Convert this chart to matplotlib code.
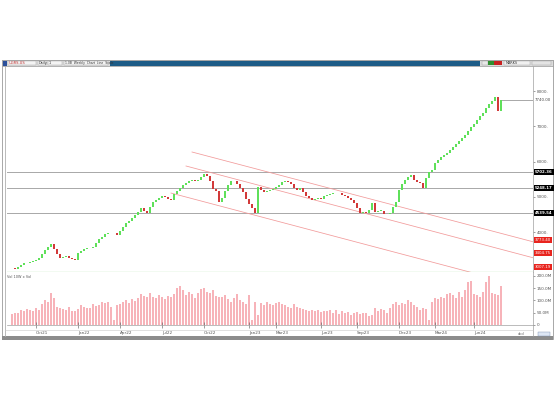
import matplotlib
matplotlib.use("Agg")
import matplotlib.pyplot as plt
from matplotlib.patches import Rectangle
from matplotlib.lines import Line2D
from matplotlib.transforms import blended_transform_factory

# weekly closes (open = previous close)
closes = [2980, 2960, 3010, 3060, 3120, 3110, 3150, 3170, 3200, 3260,
          3380, 3490, 3570, 3660, 3520, 3380, 3260, 3290, 3320, 3260,
          3230, 3210, 3400, 3460, 3520, 3540, 3550, 3570, 3690, 3800,
          3860, 3940, 3970, 3960, 3975, 3910, 4030, 4140, 4250, 4310,
          4400, 4480, 4570, 4680, 4600, 4540, 4710, 4850, 4910, 4960,
          5020, 4990, 4940, 4910, 5080, 5160, 5250, 5330, 5390, 5450,
          5470, 5450, 5470, 5560, 5650, 5590, 5450, 5220, 5160, 4850,
          4960, 5160, 5330, 5450, 5440, 5360, 5250, 5140, 4940, 4790,
          4680, 4540, 5280, 5190, 5140, 5160, 5190, 5220, 5280, 5330,
          5420, 5450, 5420, 5360, 5250, 5190, 5250, 5130, 5020, 4960,
          4910, 4940, 4960, 4950, 5020, 5050, 5080, 5110, 5100, 5110,
          5050, 5020, 4960, 4910, 4820, 4680, 4540, 4570, 4540, 4620,
          4820, 4570, 4600, 4610, 4510, 4500, 4540, 4710, 4850, 5190,
          5360, 5470, 5560, 5620, 5470, 5420, 5390, 5250, 5530, 5700,
          5760, 5960, 6040, 6130, 6180, 6240, 6330, 6410, 6500, 6580,
          6670, 6750, 6870, 6980, 7060, 7180, 7290, 7380, 7520, 7630,
          7720, 7820, 7420, 7740]

# weekly volume, millions
volumes = [45, 50, 48, 60, 55, 65, 60, 55, 70, 62,
           85, 100, 95, 130, 110, 75, 70, 65, 60, 72,
           58, 55, 65, 80, 75, 70, 68, 85, 78, 80,
           95, 88, 92, 75, 20, 80, 85, 95, 100, 90,
           105, 98, 110, 125, 118, 112, 128, 115, 110, 120,
           112, 105, 118, 115, 125, 150, 160, 140, 120, 135,
           125, 110, 130, 145, 150, 132, 128, 140, 118, 115,
           112, 120, 105, 95, 110, 125, 100, 95, 85, 120,
           20, 95, 40, 90, 80, 95, 85, 80, 90, 92,
           85, 80, 75, 70, 85, 72, 70, 65, 60, 58,
           62, 55, 60, 52, 58, 55, 60, 48, 62, 45,
           55, 50, 52, 40, 48, 52, 45, 50, 48, 38,
           42, 70, 55, 65, 60, 50, 70, 85, 95, 80,
           90, 85, 100, 95, 80, 72, 60, 70, 65, 20,
           95, 110, 105, 115, 108, 125, 130, 120, 110, 135,
           115, 140, 175, 180, 125, 120, 115, 135, 175, 200,
           130, 125, 120, 160]

date_ticks = [8, 22, 36, 50, 64, 79, 88, 103, 115, 129, 141, 154]
date_labels = ["Oct21", "Jan22", "Apr22", "Jul22", "Oct22", "Jan23",
               "Mar23", "Jun23", "Sep23", "Dec23", "Mar24", "Jun24"]

price_ticks = [4000, 5000, 6000, 7000, 8000]
vol_ticks = [0, 50, 100, 150, 200]
vol_tick_labels = ["0", "50.0M", "100.0M", "150.0M", "200.0M"]

# support / resistance levels
levels = [5702.36, 5248.17, 4539.54]
# descending channel: start bar, start price, end bar, end price
chan_x0 = [60, 58, 53]
chan_y0 = [6270, 5873, 5106]
chan_x1 = [174, 174, 174]
chan_y1 = [3716, 3263, 2383]
chan_labels = [3773.40, 3404.75, 3007.19]

W, H = 555, 400
fig = plt.figure(figsize=(W / 100, H / 100), dpi=100)
fig.patch.set_facecolor("white")


def fx(x):
    return x / W


def fy(y):
    return 1 - y / H


def frect(x0, y0, x1, y1, z=5, **kw):
    fig.add_artist(Rectangle((fx(x0), fy(y1)), fx(x1) - fx(x0), fy(y0) - fy(y1),
                             transform=fig.transFigure, zorder=z, **kw))


def fline(x0, y0, x1, y1, **kw):
    fig.add_artist(Line2D([fx(x0), fx(x1)], [fy(y0), fy(y1)],
                          transform=fig.transFigure, zorder=5, **kw))


# outer frame
frect(2, 60, 553, 339, z=-10, facecolor="white", edgecolor="#9a9a9a", lw=0.6)
frect(2, 336, 553, 340, facecolor="#8c8c8c", edgecolor="none")
fline(5, 66, 5, 336, color="#b0b0b0", lw=0.6)

# toolbar
frect(2, 60, 553, 66, facecolor="#dcdcdc", edgecolor="#9a9a9a", lw=0.5)
frect(110, 61, 480, 65.5, facecolor="#1d5c87", edgecolor="none")
frect(3, 61, 7, 65.5, facecolor="#2a4f9a", edgecolor="none")
for x0, x1 in [(8, 36), (38, 46), (48, 62), (64, 108)]:
    frect(x0, 61.3, x1, 65.3, facecolor="#f4f4f4", edgecolor="#a0a0a0", lw=0.3)
fig.text(fx(9), fy(63.4), "UGRS.US", fontsize=2.6, color="#c03030", va="center", zorder=6)
fig.text(fx(39), fy(63.4), "Daily", fontsize=2.4, color="#333", va="center", zorder=6)
fig.text(fx(49), fy(63.4), "1", fontsize=2.4, color="#333", va="center", zorder=6)
fig.text(fx(65), fy(63.4), "1.0B  Weekly  Chart  Line  Scale", fontsize=2.2,
         color="#333", va="center", zorder=6)
frect(482, 61.3, 488, 65.3, facecolor="#e8e8e8", edgecolor="#999", lw=0.3)
frect(488, 61.3, 494, 65.3, facecolor="#2f8f2f", edgecolor="none")
frect(494, 61.3, 502, 65.3, facecolor="#c82020", edgecolor="none")
frect(504, 61.3, 530, 65.3, facecolor="#f0f0f0", edgecolor="#a0a0a0", lw=0.3)
fig.text(fx(506), fy(63.4), "MARKS", fontsize=2.4, color="#333", va="center", zorder=6)
frect(532, 61.3, 551, 65.3, facecolor="#e4e4e4", edgecolor="#a0a0a0", lw=0.3)

# panes
ax = fig.add_axes([fx(7), fy(272), fx(533) - fx(7), fy(66) - fy(272)])
axv = fig.add_axes([fx(7), fy(325), fx(533) - fx(7), fy(272) - fy(325)], sharex=ax)
ax.patch.set_alpha(0)
axv.patch.set_alpha(0)

n = len(closes)
idx = list(range(n))
opens = [closes[0]] + closes[:-1]
up_c, dn_c = "#5fe05a", "#d23a3a"
cols = [up_c if c >= o else dn_c for o, c in zip(opens, closes)]
bodies = [max(abs(c - o), 12) for o, c in zip(opens, closes)]
bottoms = [min(o, c) for o, c in zip(opens, closes)]
ax.bar(idx, bodies, bottom=bottoms, width=0.65, color=cols, linewidth=0, zorder=3)

for lv in levels:
    ax.axhline(lv, color="#a8a8a8", lw=0.7, zorder=1)
ax.plot([n - 1, 174], [closes[-1], closes[-1]], color="#a8a8a8", lw=0.7, zorder=1)

for x0, y0, x1, y1 in zip(chan_x0, chan_y0, chan_x1, chan_y1):
    ax.plot([x0, x1], [y0, y1], color="#f29a9a", lw=0.55, zorder=2)

ax.axhline(2866, color="#9fdc94", lw=0.9, zorder=4)
ax.set_xlim(-1.67, 173.67)
ax.set_ylim(2866, 8710)

ax.yaxis.tick_right()
ax.set_yticks(price_ticks)
ax.set_yticklabels([f"{t}." for t in price_ticks])
ax.tick_params(axis="y", labelsize=3, length=1.5, width=0.4, pad=1,
               colors="#555555")
ax.tick_params(axis="x", bottom=False, labelbottom=False)
for s in ax.spines.values():
    s.set_color("#a0a0a0")
    s.set_linewidth(0.5)
ax.spines["left"].set_visible(False)
ax.spines["top"].set_visible(False)
ax.spines["bottom"].set_visible(False)

# right-side value tags
lab_x = 1.004
ax.text(lab_x, closes[-1], f"{closes[-1]:.2f}", transform=ax.get_yaxis_transform(),
        fontsize=2.8, color="#444", va="center", ha="left")
for lv in levels:
    ax.text(lab_x, lv, f"{lv:.2f}", transform=ax.get_yaxis_transform(),
            fontsize=2.8, color="white", va="center", ha="left", fontweight="bold",
            bbox=dict(boxstyle="square,pad=0.25", facecolor="black", edgecolor="none"))
tag_tr = blended_transform_factory(ax.transAxes, fig.transFigure)
for lv, y_px in zip(chan_labels, [240, 253, 267]):
    ax.text(lab_x, fy(y_px), f"{lv:.2f}", transform=tag_tr,
            fontsize=2.8, color="white", va="center", ha="left",
            bbox=dict(boxstyle="square,pad=0.25", facecolor="#e8241e", edgecolor="none"))

# volume pane
axv.bar(idx, volumes, width=0.4, color="#f7b3b9", linewidth=0)
axv.set_ylim(0, 215)
axv.yaxis.tick_right()
axv.set_yticks(vol_ticks)
axv.set_yticklabels(vol_tick_labels)
axv.tick_params(axis="y", labelsize=3, length=1.5, width=0.4, pad=1,
                colors="#555555")
axv.set_xticks(date_ticks)
axv.set_xticklabels(date_labels)
axv.tick_params(axis="x", labelsize=3, length=4, width=0.4, pad=2.5,
                colors="#555555", direction="inout")
for lab in axv.get_xticklabels():
    lab.set_horizontalalignment("left")
for s in axv.spines.values():
    s.set_color("#a0a0a0")
    s.set_linewidth(0.5)
axv.spines["left"].set_visible(False)
axv.spines["top"].set_visible(False)
axv.text(0.0, 0.95, "Vol 10W x Vol", transform=axv.transAxes, fontsize=2.5,
         color="#555", va="top")

fline(533, 325, 533, 336, color="#a0a0a0", lw=0.5)
fline(5, 330, 533, 330, color="#c8c8c8", lw=0.4)
fig.text(fx(518), fy(334), "dcd", fontsize=2.6, color="#666", va="center")
frect(538, 332, 550, 336, facecolor="#dde6f4", edgecolor="#7a8fb0", lw=0.3)

fig.savefig("out.png", dpi=100)
